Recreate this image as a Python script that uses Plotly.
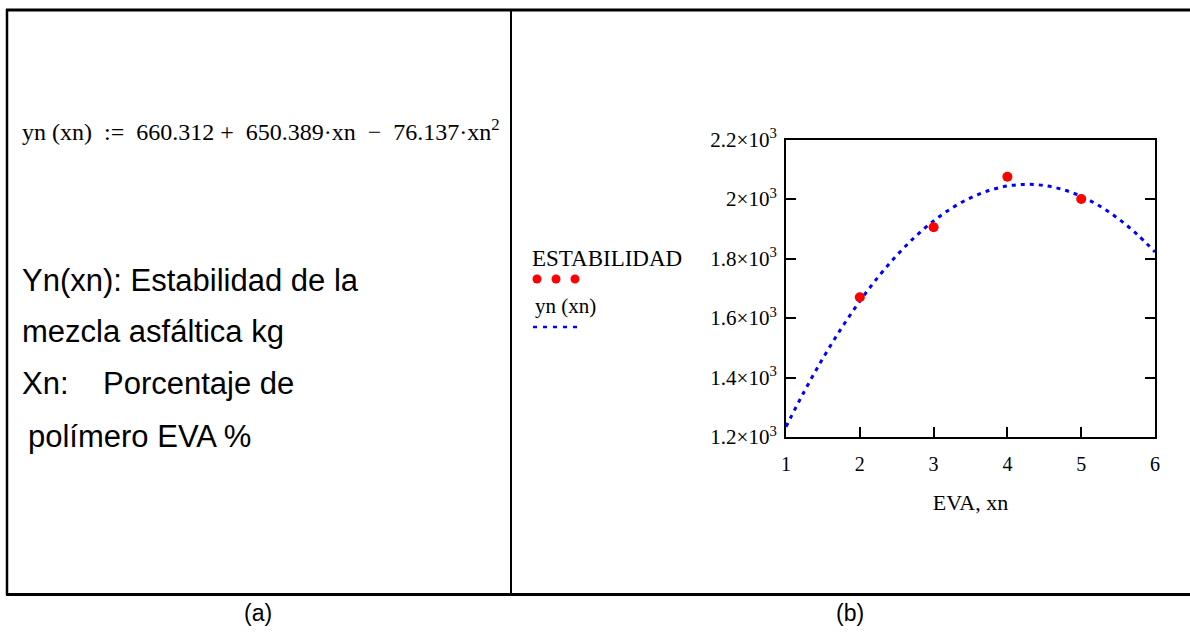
import plotly.graph_objects as go

# ---- data ----
eva_pct = [2, 3, 4, 5]
estabilidad = [1670, 1905, 2075, 2000]

fit_x = [1, 1.25, 1.5, 1.75, 2, 2.25, 2.5, 2.75, 3, 3.25, 3.5, 3.75, 4,
         4.25, 4.5, 4.75, 5, 5.25, 5.5, 5.75, 6]
fit_y = [1234.6, 1354.3, 1464.6, 1565.3, 1656.5, 1738.3, 1810.4, 1873.1,
         1926.3, 1969.9, 2004.0, 2028.6, 2043.7, 2049.2, 2045.3, 2031.8,
         2008.8, 1976.3, 1934.3, 1882.8, 1821.7]

y_tickvals = [1200, 1400, 1600, 1800, 2000, 2200]
y_ticktext = ["1.2×10<sup>3</sup>", "1.4×10<sup>3</sup>", "1.6×10<sup>3</sup>",
              "1.8×10<sup>3</sup>", "2×10<sup>3</sup>", "2.2×10<sup>3</sup>"]
x_tickvals = [1, 2, 3, 4, 5, 6]

W, H = 1190, 632
SERIF = "Liberation Serif"
SANS = "Liberation Sans"


def px(x):
    return x / W


def py(y):
    return 1 - y / H


fig = go.Figure()
fig.add_trace(go.Scatter(
    x=fit_x, y=fit_y, mode="lines", line=dict(color="#0000ff", width=3, dash="4px,5px", shape="spline"),
    name="yn(xn)", hoverinfo="skip"))
fig.add_trace(go.Scatter(
    x=eva_pct, y=estabilidad, mode="markers", marker=dict(color="#ff0000", size=10),
    name="ESTABILIDAD"))

shapes = []
# table borders
shapes.append(dict(type="line", xref="paper", yref="paper", x0=px(6), x1=px(1190), y0=py(10), y1=py(10),
                   line=dict(color="black", width=3)))
shapes.append(dict(type="line", xref="paper", yref="paper", x0=px(7), x1=px(7), y0=py(9), y1=py(595),
                   line=dict(color="black", width=2.5)))
shapes.append(dict(type="line", xref="paper", yref="paper", x0=px(6), x1=px(1190), y0=py(594.5), y1=py(594.5),
                   line=dict(color="black", width=3)))
shapes.append(dict(type="line", xref="paper", yref="paper", x0=px(511), x1=px(511), y0=py(10), y1=py(594),
                   line=dict(color="black", width=2)))
# legend samples
for cx in [537, 556, 575]:
    shapes.append(dict(type="circle", xref="paper", yref="paper",
                       x0=px(cx - 4.5), x1=px(cx + 4.5), y0=py(279 + 4.5), y1=py(279 - 4.5),
                       fillcolor="#ff0000", line=dict(width=0)))
shapes.append(dict(type="line", xref="paper", yref="paper", x0=px(533), x1=px(583), y0=py(327), y1=py(327),
                   line=dict(color="#0000ff", width=2.5, dash="4px,6px")))

annotations = []


def txt(x, y, s, size, family, anchor="left"):
    annotations.append(dict(x=px(x), y=py(y), xref="paper", yref="paper", text=s, showarrow=False,
                            xanchor=anchor, yanchor="middle", font=dict(size=size, family=family, color="black")))


txt(20, 130, "yn&nbsp;(xn)&nbsp;&nbsp;:=&nbsp;&nbsp;660.312 +&nbsp;&nbsp;650.389·xn&nbsp;&nbsp;−&nbsp;&nbsp;76.137·xn<sup>2</sup>", 24, SERIF)
txt(20, 281, "Yn(xn): Estabilidad de la", 31, SANS)
txt(20, 331, "mezcla asfáltica kg", 31, SANS)
txt(20, 383, "Xn:&nbsp;&nbsp;&nbsp;&nbsp;Porcentaje de", 31, SANS)
txt(26, 436, "polímero EVA %", 31, SANS)
txt(258, 613, "(a)", 23, SANS, "center")
txt(850, 613, "(b)", 23, SANS, "center")
txt(530, 258, "ESTABILIDAD", 23, SERIF)
txt(533, 306, "yn&nbsp;(xn)", 21, SERIF)

fig.update_layout(
    template="none",
    width=W, height=H, margin=dict(l=0, r=0, t=0, b=0, autoexpand=False),
    paper_bgcolor="white", plot_bgcolor="white", showlegend=False,
    shapes=shapes, annotations=annotations,
    xaxis=dict(domain=[px(786), px(1155)], range=[1, 6], tickvals=x_tickvals, automargin=False,
               ticks="inside", ticklen=10, tickwidth=2, tickcolor="black",
               showline=True, linecolor="black", linewidth=2, mirror=True, showgrid=False, zeroline=False,
               tickfont=dict(family=SERIF, size=20, color="black"), ticklabelstandoff=8,
               title=dict(text="EVA, xn", font=dict(family=SERIF, size=22, color="black"), standoff=21)),
    yaxis=dict(domain=[py(437), py(139.5)], range=[1200, 2200], tickvals=y_tickvals, ticktext=y_ticktext,
               automargin=False,
               ticks="inside", ticklen=10, tickwidth=2, tickcolor="black",
               showline=True, linecolor="black", linewidth=2, mirror="ticks", showgrid=False, zeroline=False,
               tickfont=dict(family=SERIF, size=21, color="black"), ticklabelstandoff=3),
)

fig.write_html("out.html", config={"displayModeBar": False},
               post_script="document.body.style.margin='0';")
